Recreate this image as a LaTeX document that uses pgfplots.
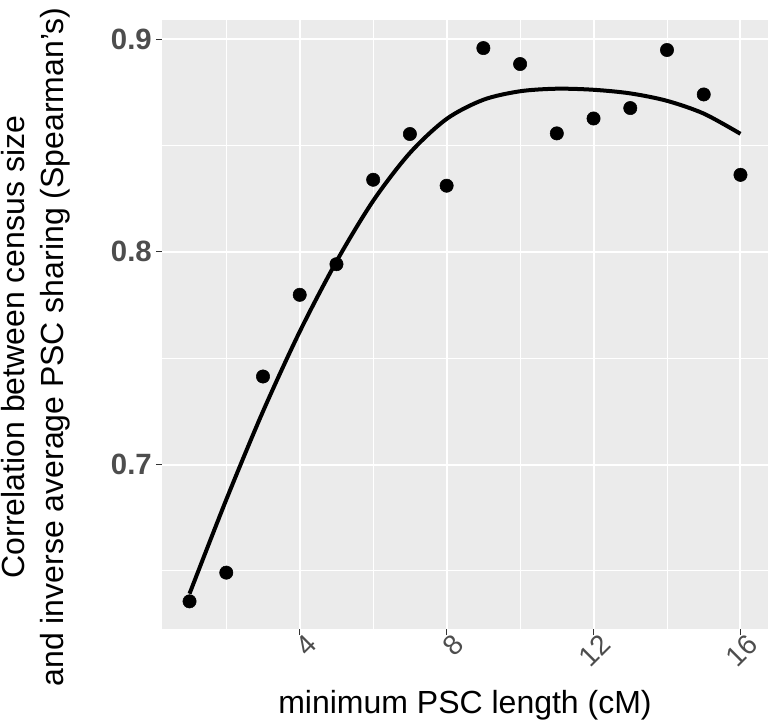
\documentclass[border=0pt]{standalone}
\usepackage{fontspec}
\setmainfont{Liberation Sans}
\usepackage{pgfplots}
\pgfplotsset{compat=1.18}
\definecolor{panelbg}{HTML}{EBEBEB}
\definecolor{ticktext}{HTML}{4D4D4D}
\definecolor{tickmark}{HTML}{333333}

\pgfplotstableread{
x   r
1   0.6357
2   0.6492
3   0.7414
4   0.7798
5   0.7942
6   0.8339
7   0.8554
8   0.8311
9   0.8958
10  0.8883
11  0.8557
12  0.8627
13  0.8676
14  0.8949
15  0.8740
16  0.8362
}\pointdata

\pgfplotstableread{
x   r
1   0.6393
2   0.6835
3   0.7250
4   0.7625
5   0.7955
6   0.8240
7   0.8465
8   0.8625
9   0.8715
10  0.8755
11  0.8767
12  0.8762
13  0.8745
14  0.8710
15  0.8650
16  0.8555
}\smoothdata

\begin{document}
\begin{tikzpicture}
  % page frame: 771 x 726 px at 0.75pt per px, panel corner at origin
  \path[use as bounding box] (-121.5pt,-72.75pt) rectangle (456.75pt,471.75pt);
  \begin{axis}[
    scale only axis,
    width=454.5pt, height=456.75pt,
    xmin=0.25, xmax=16.75,
    ymin=0.6227, ymax=0.909,
    axis background/.style={fill=panelbg},
    axis line style={draw=none},
    xtick={4,8,12,16}, xticklabels={4,8,12,16},
    ytick={0.7,0.8,0.9}, yticklabels={0.7,0.8,0.9},
    minor xtick={2,6,10,14},
    minor ytick={0.65,0.75,0.85},
    xtick pos=bottom, ytick pos=left,
    tick align=outside,
    major tick length=4.5pt, minor tick length=0pt,
    tick style={tickmark, line width=0.8pt},
    grid=both,
    major grid style={white, line width=1.5pt},
    minor grid style={white, line width=0.75pt},
    xticklabel style={font=\fontsize{21}{25}\selectfont, text=ticktext,
      rotate=45, anchor=north east, inner sep=0pt, xshift=4.1pt, yshift=-1.6pt},
    yticklabel style={font=\bfseries\fontsize{22}{26}\selectfont, text=ticktext,
      inner sep=3pt},
    xlabel={minimum PSC length (cM)},
    xlabel style={font=\fontsize{24}{28}\selectfont,
      at={(axis description cs:0.5,0)}, anchor=base, yshift=-63pt},
    ylabel={Correlation between census size\\and inverse average PSC sharing (Spearman's)},
    ylabel style={font=\fontsize{24}{29}\selectfont, align=center,
      at={(axis description cs:-0.208,0.463)}, anchor=center},
  ]
    \addplot[black, line width=3pt, smooth, no marks] table[x=x, y=r] {\smoothdata};
    \addplot[only marks, mark=*, mark size=5pt, black] table[x=x, y=r] {\pointdata};
  \end{axis}
\end{tikzpicture}
\end{document}
